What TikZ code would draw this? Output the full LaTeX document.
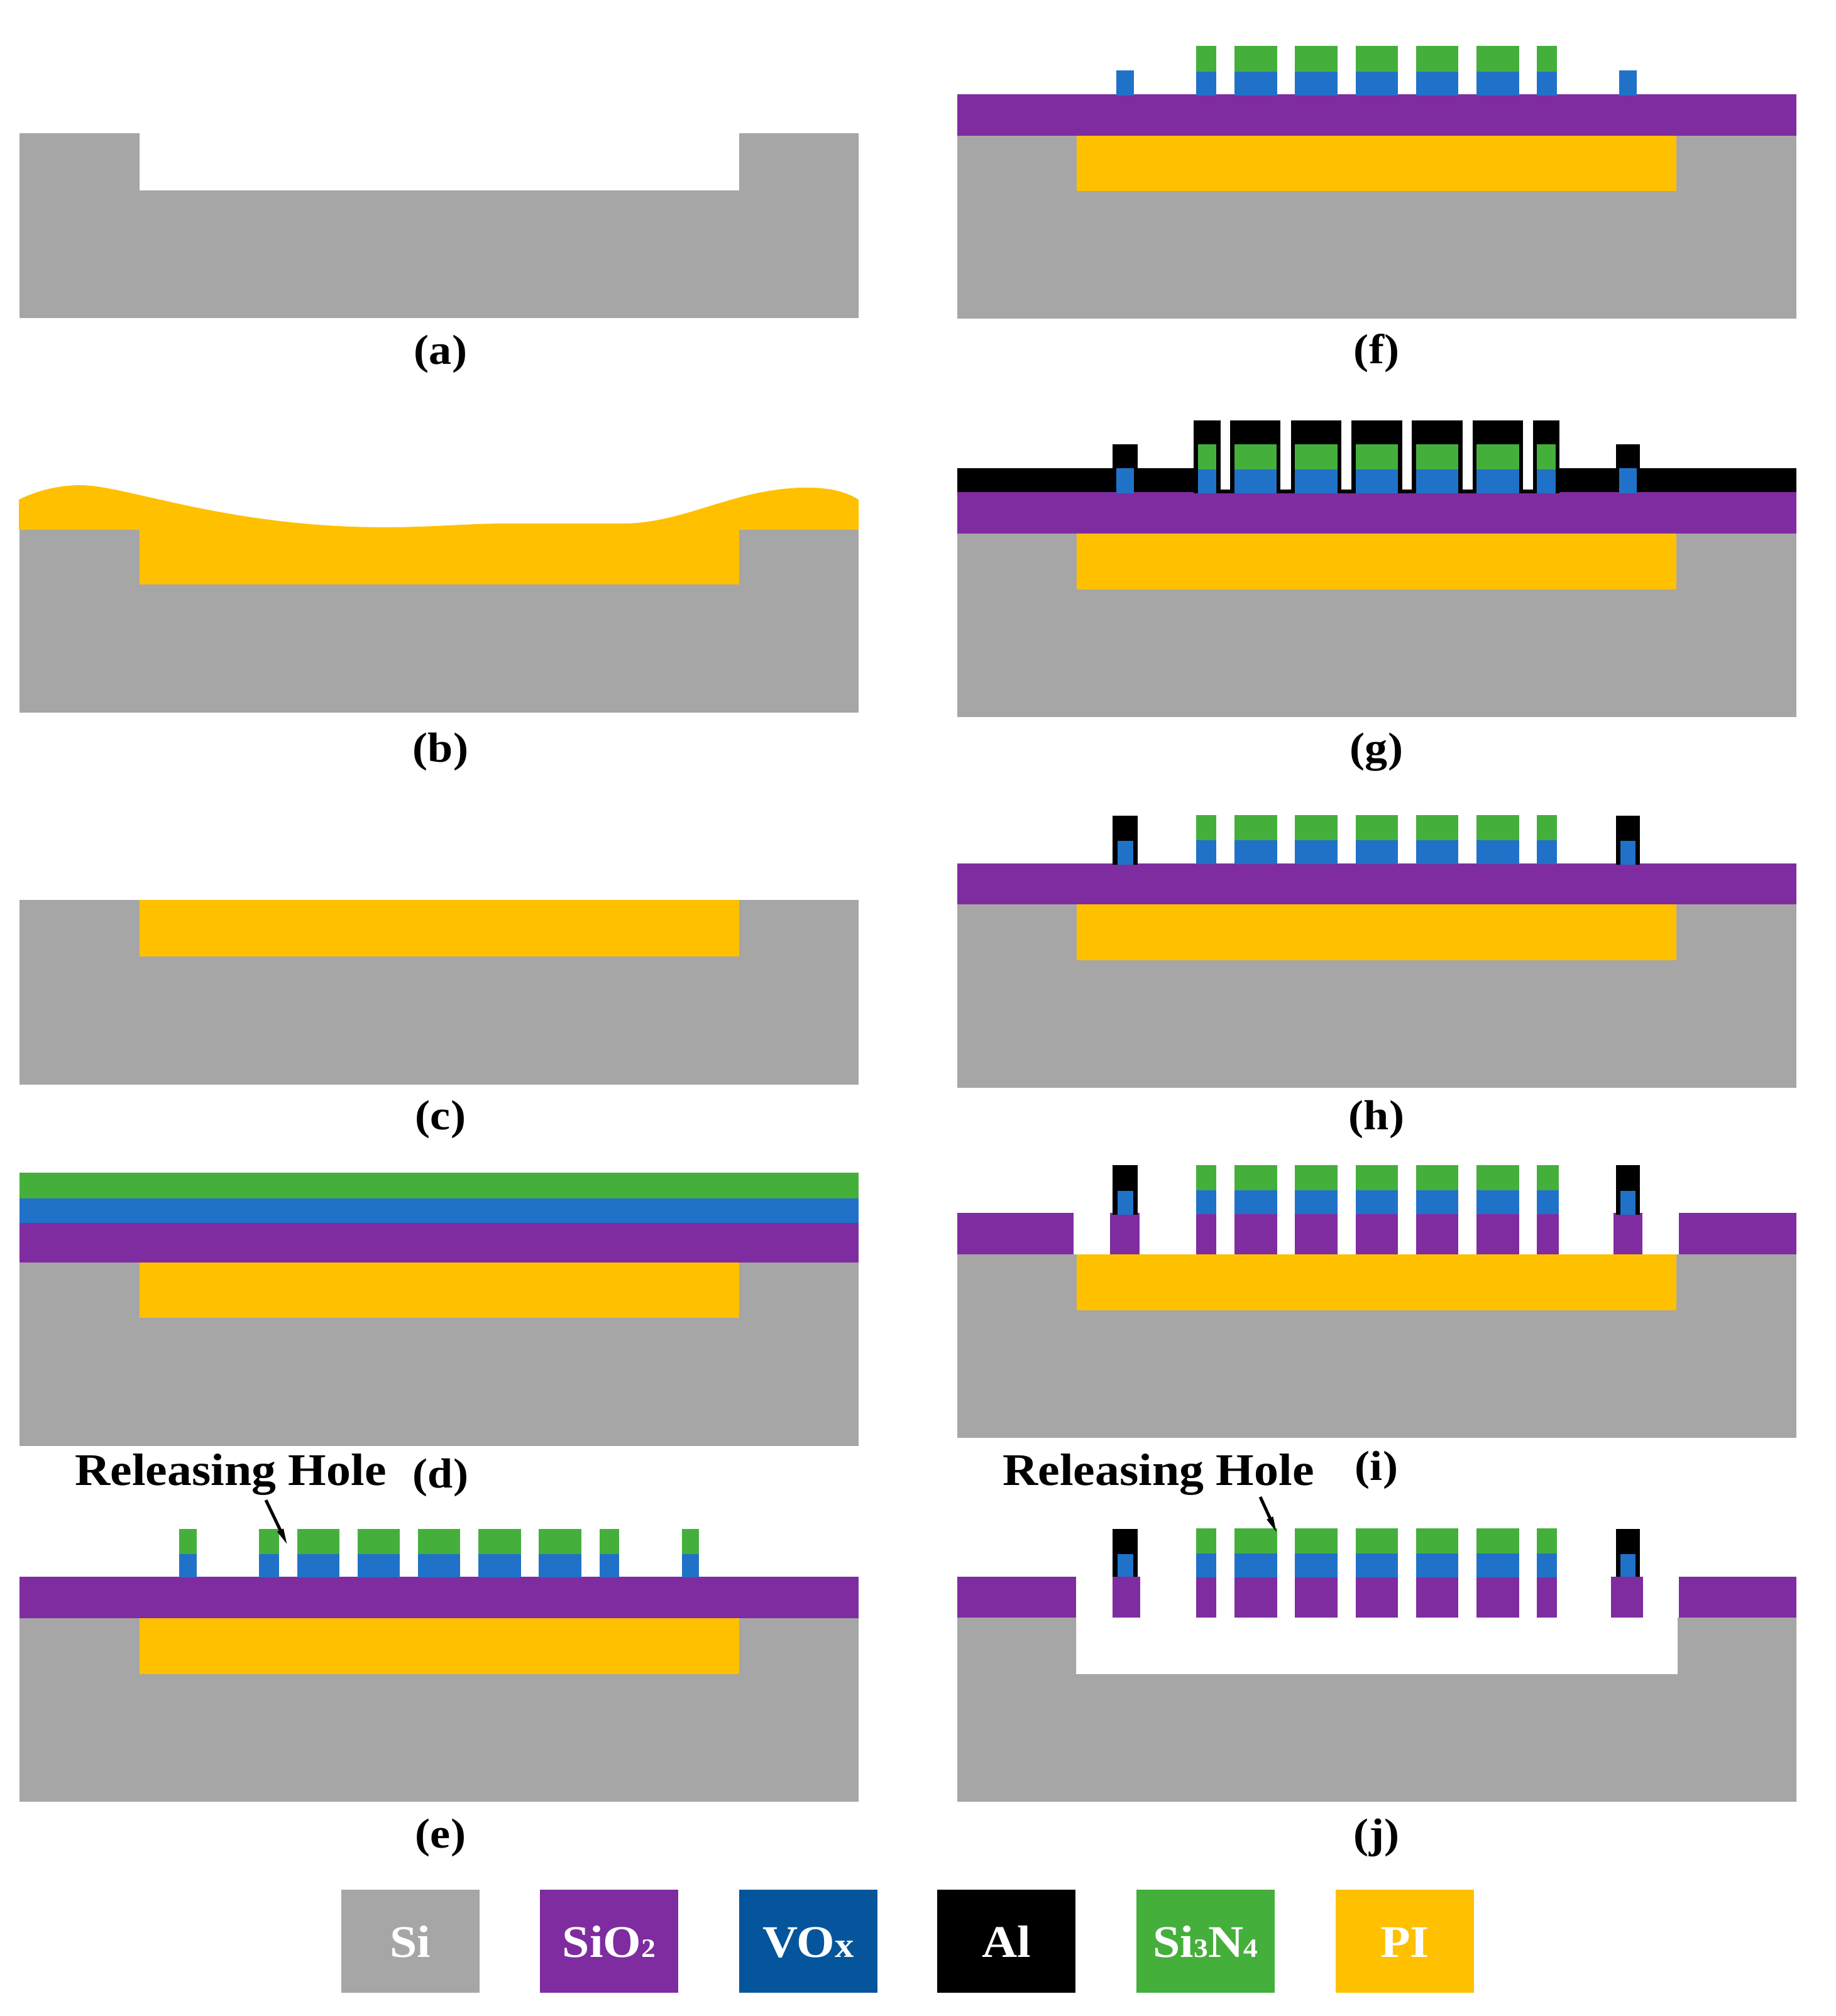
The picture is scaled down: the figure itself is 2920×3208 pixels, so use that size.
\documentclass[tikz,border=0pt]{standalone}
\usepackage{fontspec}
\setmainfont[FakeStretch=1.08]{Liberation Serif}
\usetikzlibrary{arrows.meta}
\definecolor{colsi}{HTML}{A6A6A6}
\definecolor{coloxide}{HTML}{7F2CA0}
\definecolor{colvox}{HTML}{2072C8}
\definecolor{colvoxkey}{HTML}{05559C}
\definecolor{colnit}{HTML}{45AF3C}
\definecolor{colpi}{HTML}{FFC000}
\tikzset{
  sifill/.style={fill=colsi},
  oxfill/.style={fill=coloxide},
  voxfill/.style={fill=colvox},
  nitfill/.style={fill=colnit},
  pifill/.style={fill=colpi},
  alfill/.style={fill=black},
  capt/.style={anchor=base, inner sep=0pt, font=\fontsize{19}{23}\selectfont\bfseries},
  holecapt/.style={anchor=base, inner sep=0pt, font=\fontsize{20.5}{24}\selectfont\bfseries},
  keybox/.style={minimum width=2.19cm, minimum height=1.63cm, inner sep=0pt, text=white,
    text height=0.5cm, text depth=0pt, font=\fontsize{20.5}{24}\selectfont\bfseries},
  holeline/.style={line width=1.4pt, -{Stealth[length=2.8mm,width=0.95mm,inset=0pt]}}
}
\newcommand{\smalldig}[1]{{\fontsize{12}{14}\selectfont #1}}
\newcommand{\smallx}[1]{{\fontsize{16}{18}\selectfont #1}}
\def\barsleft{412/444,473/540,569/636,665/732,761/829,857/925,954/985}
\def\barsright{1903/1935,1964/2032,2060/2128,2157/2224,2253/2320,2349/2417,2445/2477}
\begin{document}
\begin{tikzpicture}[x=0.01cm, y=-0.01cm]
\useasboundingbox (0,0) rectangle (2920,3208);

% (a)
\fill[sifill] (31,212) -- (222,212) -- (222,303) -- (1176,303) -- (1176,212) -- (1366,212) -- (1366,506) -- (31,506) -- cycle;
\node[capt] (capa) at (701,579) {(a)};

% (b)
\fill[sifill] (31,842) rectangle (1366,1134);
\fill[pifill] (30,843) -- (30,795) .. controls (60,780) and (95,772) .. (128,772) .. controls (200,772) and (360,839) .. (612,839) .. controls (690,839) and (740,833) .. (808,833) -- (991,833) .. controls (1090,833) and (1170,776) .. (1283,776) .. controls (1320,776) and (1345,782) .. (1366,795) -- (1366,843) -- cycle;
\fill[pifill] (222,842) rectangle (1176,930);
\node[capt] (capb) at (701,1212) {(b)};

% (c)
\fill[sifill] (31,1432) rectangle (1366,1726);
\fill[pifill] (222,1432) rectangle (1176,1522);
\node[capt] (capc) at (701,1797) {(c)};

% (d)
\fill[sifill] (31,2009) rectangle (1366,2301);
\fill[pifill] (222,2009) rectangle (1176,2097);
\fill[oxfill] (31,1946) rectangle (1366,2009);
\fill[voxfill] (31,1907) rectangle (1366,1946);
\fill[nitfill] (31,1866) rectangle (1366,1907);
\node[capt] (capd) at (701,2367) {(d)};

% (e)
\fill[sifill] (31,2575) rectangle (1366,2867);
\fill[pifill] (222,2575) rectangle (1176,2664);
\fill[oxfill] (31,2509) rectangle (1366,2575);
\foreach \xa/\xb in {285/313,1085/1112} {
  \fill[nitfill] (\xa,2433) rectangle (\xb,2473);
  \fill[voxfill] (\xa,2473) rectangle (\xb,2510);
}
\foreach \xa/\xb in \barsleft {
  \fill[nitfill] (\xa,2433) rectangle (\xb,2473);
  \fill[voxfill] (\xa,2473) rectangle (\xb,2510);
}
\node[capt] (cape) at (701,2940) {(e)};
\node[holecapt] (holee) at (367,2363) {Releasing Hole};
\coordinate (holeea) at (423,2387);
\coordinate (holeeb) at (458,2460);
\draw[holeline] (holeea) -- (holeeb);

% (f)
\fill[sifill] (1523,216) rectangle (2858,507);
\fill[pifill] (1713,216) rectangle (2667,304);
\fill[oxfill] (1523,150) rectangle (2858,216);
\foreach \xa/\xb in {1776/1804,2576/2604} {
  \fill[voxfill] (\xa,112) rectangle (\xb,152);
}
\foreach \xa/\xb in \barsright {
  \fill[nitfill] (\xa,73) rectangle (\xb,114);
  \fill[voxfill] (\xa,114) rectangle (\xb,152);
}
\node[capt] (capf) at (2190,578) {(f)};

% (g)
\fill[sifill] (1523,849) rectangle (2858,1141);
\fill[pifill] (1713,849) rectangle (2667,938);
\fill[oxfill] (1523,783) rectangle (2858,849);
\fill[alfill] (1523,745) rectangle (2858,783);
\fill[alfill] (1899,669) rectangle (2481,785);
\foreach \xa/\xb in {1770/1810,2571/2609} {
  \fill[alfill] (\xa,707) rectangle (\xb,746);
}
\foreach \xa/\xb in {1942/1957,2037/2054,2134/2150,2231/2246,2327/2343,2423/2439} {
  \fill[white] (\xa,669) rectangle (\xb,779);
}
\foreach \xa/\xb in {1776/1804,2576/2604} {
  \fill[voxfill] (\xa,745) rectangle (\xb,785);
}
\foreach \xa/\xb in {1906/1935,1964/2031,2060/2128,2157/2224,2253/2320,2349/2417,2445/2475} {
  \fill[nitfill] (\xa,707) rectangle (\xb,747);
  \fill[voxfill] (\xa,747) rectangle (\xb,785);
}
\node[capt] (capg) at (2190,1212) {(g)};

% (h)
\fill[sifill] (1523,1439) rectangle (2858,1731);
\fill[pifill] (1713,1439) rectangle (2667,1528);
\fill[oxfill] (1523,1374) rectangle (2858,1439);
\foreach \xa/\xb/\xc/\xd in {1770/1810/1778/1803,2571/2609/2578/2602} {
  \fill[alfill] (\xa,1298) rectangle (\xb,1376);
  \fill[voxfill] (\xc,1338) rectangle (\xd,1376);
}
\foreach \xa/\xb in \barsright {
  \fill[nitfill] (\xa,1297) rectangle (\xb,1337);
  \fill[voxfill] (\xa,1337) rectangle (\xb,1375);
}
\node[capt] (caph) at (2190,1797) {(h)};

% (i)
\fill[sifill] (1523,1996) rectangle (2858,2288);
\fill[pifill] (1713,1996) rectangle (2667,2085);
\foreach \xa/\xb in {1523/1708,1766/1813,2567/2613,2671/2858} {
  \fill[oxfill] (\xa,1930) rectangle (\xb,1996);
}
\foreach \xa/\xb/\xc/\xd in {1770/1810/1778/1803,2571/2609/2578/2602} {
  \fill[alfill] (\xa,1854) rectangle (\xb,1933);
  \fill[voxfill] (\xc,1895) rectangle (\xd,1933);
}
\foreach \xa/\xb in {1903/1935,1964/2032,2060/2128,2157/2224,2253/2320,2349/2417,2445/2480} {
  \fill[nitfill] (\xa,1854) rectangle (\xb,1894);
  \fill[voxfill] (\xa,1894) rectangle (\xb,1932);
  \fill[oxfill] (\xa,1932) rectangle (\xb,1996);
}
\node[capt] (capi) at (2190,2355) {(i)};

% (j)
\fill[sifill] (1523,2574) -- (1712,2574) -- (1712,2664) -- (2669,2664) -- (2669,2574) -- (2858,2574) -- (2858,2867) -- (1523,2867) -- cycle;
\foreach \xa/\xb/\xc/\xd in {1770/1810/1778/1803,2571/2609/2578/2602} {
  \fill[alfill] (\xa,2433) rectangle (\xb,2510);
  \fill[voxfill] (\xc,2473) rectangle (\xd,2510);
}
\foreach \xa/\xb in {1523/1712,1770/1814,2563/2614,2671/2858} {
  \fill[oxfill] (\xa,2509) rectangle (\xb,2574);
}
\foreach \xa/\xb in \barsright {
  \fill[nitfill] (\xa,2432) rectangle (\xb,2472);
  \fill[voxfill] (\xa,2472) rectangle (\xb,2510);
  \fill[oxfill] (\xa,2510) rectangle (\xb,2574);
}
\node[capt] (capj) at (2190,2940) {(j)};
\node[holecapt] (holej) at (1843,2363) {Releasing Hole};
\coordinate (holeja) at (2005,2382);
\coordinate (holejb) at (2032,2441);
\draw[holeline] (holeja) -- (holejb);

% key
\node[keybox, sifill] (keysi) at (653,3089) {Si};
\node[keybox, oxfill] (keyox) at (969,3089) {SiO\smalldig{2}};
\node[keybox, fill=colvoxkey] (keyvox) at (1286,3089) {VO\smallx{x}};
\node[keybox, alfill] (keyal) at (1601,3089) {Al};
\node[keybox, nitfill] (keynit) at (1918,3089) {Si\smalldig{3}N\smalldig{4}};
\node[keybox, pifill] (keypi) at (2235,3089) {PI};
\end{tikzpicture}
\end{document}
